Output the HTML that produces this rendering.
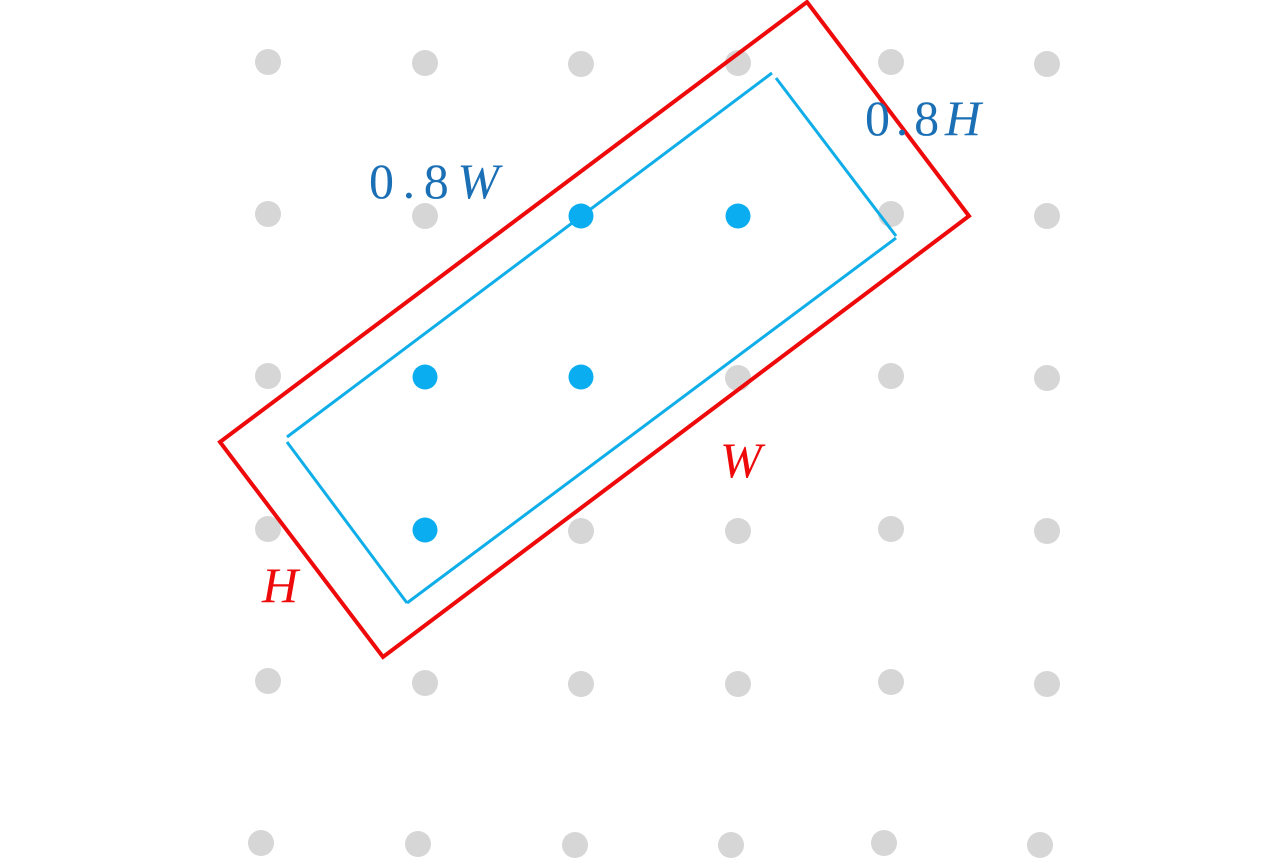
<!DOCTYPE html>
<html><head><meta charset="utf-8"><style>html,body{margin:0;padding:0;background:#fff;}svg{display:block}</style></head>
<body>
<svg width="1280" height="858" viewBox="0 0 1280 858" xmlns="http://www.w3.org/2000/svg">
<g fill="#d6d6d6">
<circle cx="268" cy="62" r="13"/><circle cx="425" cy="63" r="13"/><circle cx="581" cy="64" r="13"/><circle cx="738" cy="63" r="13"/><circle cx="891" cy="62" r="13"/><circle cx="1047" cy="64" r="13"/>
<circle cx="268" cy="214" r="13"/><circle cx="425" cy="216" r="13"/><circle cx="891" cy="214" r="13"/><circle cx="1047" cy="216" r="13"/>
<circle cx="268" cy="376" r="13"/><circle cx="738" cy="378" r="13"/><circle cx="891" cy="376" r="13"/><circle cx="1047" cy="378" r="13"/>
<circle cx="268" cy="529" r="13"/><circle cx="581" cy="531" r="13"/><circle cx="738" cy="531" r="13"/><circle cx="891" cy="529" r="13"/><circle cx="1047" cy="531" r="13"/>
<circle cx="268" cy="681" r="13"/><circle cx="425" cy="683" r="13"/><circle cx="581" cy="684" r="13"/><circle cx="738" cy="684" r="13"/><circle cx="891" cy="682" r="13"/><circle cx="1047" cy="684" r="13"/>
<circle cx="261" cy="843" r="13"/><circle cx="418" cy="844" r="13"/><circle cx="575" cy="845" r="13"/><circle cx="731" cy="845" r="13"/><circle cx="884" cy="843" r="13"/><circle cx="1040" cy="845" r="13"/>
</g>
<polygon points="220,442 807,2 969,216 383,657" fill="none" stroke="#ee0a0a" stroke-width="4" stroke-linejoin="miter"/>
<g stroke="#10aee8" stroke-width="3" fill="none">
<line x1="287" y1="437" x2="772" y2="73"/>
<line x1="776" y1="78" x2="896" y2="236"/>
<line x1="896" y1="238" x2="407" y2="603"/>
<polyline points="407,603 287,442"/>
</g>
<g fill="#0aaef0">
<circle cx="581" cy="216" r="12.5"/><circle cx="738" cy="216" r="12.5"/><circle cx="425" cy="377" r="12.5"/><circle cx="581" cy="377" r="12.5"/><circle cx="425" cy="530" r="12.5"/>
</g>
<g font-family="Liberation Serif, serif" font-size="50">
<text x="369" y="198" fill="#1a6fb5" textLength="130" lengthAdjust="spacing">0.8<tspan font-style="italic">W</tspan></text>
<text x="865" y="135" fill="#1a6fb5" textLength="116" lengthAdjust="spacing">0.8<tspan font-style="italic">H</tspan></text>
<text x="720" y="477" fill="#ee0a0a" font-style="italic">W</text>
<text x="262" y="602" fill="#ee0a0a" font-style="italic">H</text>
</g>
</svg>
</body></html>
